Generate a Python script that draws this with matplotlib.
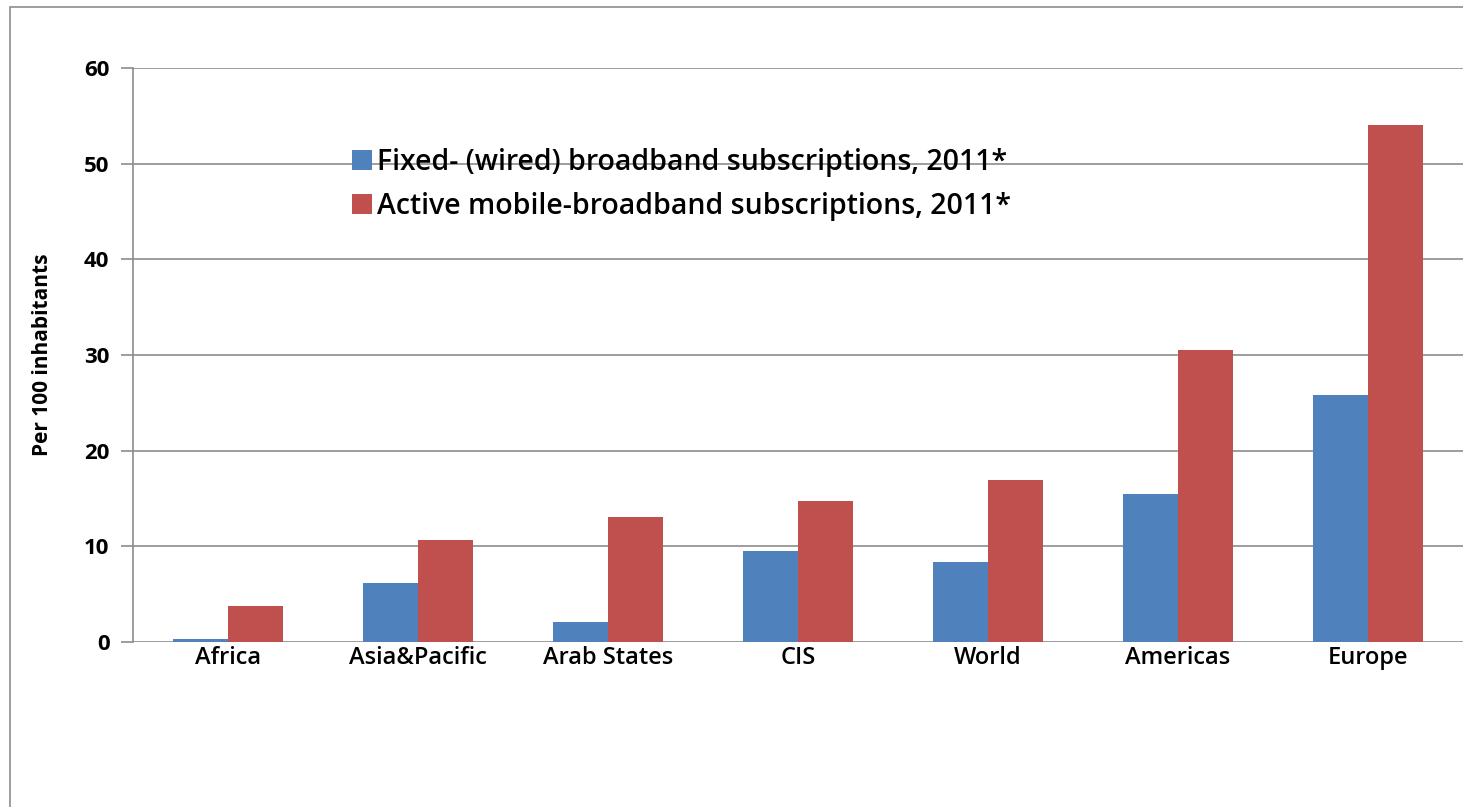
import numpy as np
import matplotlib.pyplot as plt
from matplotlib.patches import Rectangle

# datos (por 100 habitantes)
regiones = ["Africa", "Asia&Pacific", "Arab States", "CIS", "World", "Americas", "Europe"]
fijo = [0.3, 6.2, 2.1, 9.5, 8.4, 15.5, 25.8]
movil = [3.8, 10.7, 13.1, 14.7, 16.9, 30.5, 54.0]
etiquetas = ["Fixed- (wired) broadband subscriptions, 2011*",
             "Active mobile-broadband subscriptions, 2011*"]

plt.rcParams['font.family'] = ['Open Sans', 'DejaVu Sans']

fig = plt.figure(figsize=(14.63, 8.07), dpi=100)
ax = fig.add_axes([133/1463, 1 - 642/807, 1 - 133/1463, (642 - 68)/807])

# borde exterior del grafico
fig.patches.append(Rectangle((10/1463, -0.05), 1.2, 1 - 7/807 + 0.05,
                             transform=fig.transFigure, fill=False,
                             edgecolor='#8c8c8c', linewidth=1.2))

x = np.arange(len(regiones))
w = 0.29
ax.bar(x - w/2, fijo, w, color='#4F81BD', label=etiquetas[0], zorder=3)
ax.bar(x + w/2, movil, w, color='#C0504D', label=etiquetas[1], zorder=3)

ax.set_xlim(-0.5, len(regiones) - 0.5)
ax.set_ylim(0, 60)
ax.set_yticks(range(0, 61, 10))
ax.yaxis.grid(True, color='#8c8c8c', linewidth=1.2, zorder=0)
ax.set_axisbelow(True)

ax.set_xticks(x)
ax.set_xticklabels(regiones, fontsize=17, fontweight='semibold')
ax.tick_params(axis='x', length=0, pad=3)
ax.tick_params(axis='y', length=9, width=1.2, color='#8c8c8c', labelsize=16, pad=8)
for t in ax.get_yticklabels():
    t.set_fontweight('bold')

for s in ['top', 'right', 'bottom']:
    ax.spines[s].set_visible(False)
ax.spines['left'].set_color('#8c8c8c')
ax.spines['left'].set_linewidth(1.2)

ax.set_ylabel("Per 100 inhabitants", fontsize=15, fontweight='bold', labelpad=22)

leg = ax.legend(loc='upper left', bbox_to_anchor=(0.156, 0.88), frameon=False,
                fontsize=20.5, handlelength=0.7, handleheight=0.7, handletextpad=0.2,
                labelspacing=0.5, borderaxespad=0)
for t in leg.get_texts():
    t.set_fontweight('semibold')

plt.savefig('out.png', dpi=100)
